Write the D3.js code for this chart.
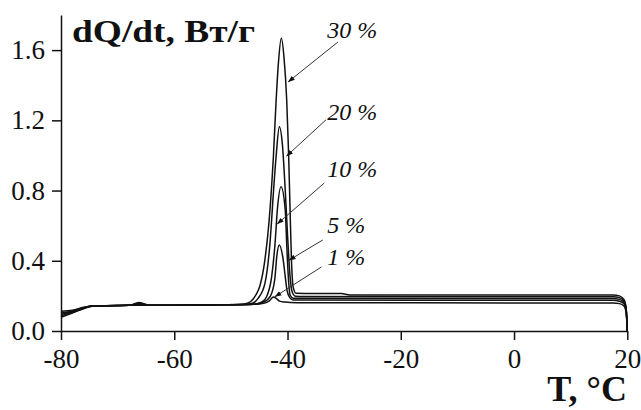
<!DOCTYPE html>
<html>
<head>
<meta charset="utf-8" />
<title>dQ/dt</title>
<script src="https://cdn.jsdelivr.net/npm/d3@7"></script>
<style>
	body { margin: 0; background: #fff; }
	svg { display: block; }
	svg text { font-family: "Liberation Serif", "Times New Roman", Times, serif; }
	.axis text { font-size: 27px; fill: #111; }
	.axis path, .axis line { stroke: #111; stroke-width: 1.5; }
</style>
</head>
<body>
<svg id="chart"></svg>

<script>
// tick labels
var xTicks = [-80, -60, -40, -20, 0, 20],
    yTicks = [0, 0.4, 0.8, 1.2, 1.6];

// curves, [T °C, dQ/dt W/g]
var s30 = [[-80,0.078],[-78,0.102],[-76,0.127],[-74.5,0.141],[-72,0.143],[-68,0.146],[-67,0.155],[-66.2,0.163],[-65.4,0.156],[-64.5,0.147],[-60,0.147],[-52,0.149],[-48.5,0.151],[-47.6,0.154],[-46.5,0.168],[-45.6,0.205],[-44.9,0.255],[-44,0.404],[-43.1,0.689],[-42.5,0.99],[-42,1.32],[-41.6,1.53],[-41.1,1.667],[-40.6,1.55],[-40.15,1.32],[-39.8,1.0],[-39.55,0.69],[-39.3,0.40],[-39.0,0.25],[-38.5,0.215],[-37,0.214],[-30.5,0.213],[-29,0.205],[0,0.205],[17.5,0.205],[18.6,0.2],[19.4,0.18],[19.8,0.13],[20,0]];

var s20 = [[-80,0.086],[-78,0.107],[-76,0.129],[-74.5,0.142],[-72,0.144],[-68,0.146],[-67,0.153],[-66.2,0.159],[-65.4,0.153],[-64.5,0.147],[-60,0.147],[-52,0.149],[-47.5,0.151],[-46.2,0.158],[-45.2,0.186],[-44,0.27],[-43.1,0.5],[-42.5,0.784],[-42,1.0],[-41.45,1.163],[-40.9,1.06],[-40.4,0.8],[-40,0.55],[-39.6,0.33],[-39.2,0.225],[-38.6,0.198],[-37,0.196],[0,0.195],[17.5,0.195],[18.6,0.19],[19.4,0.172],[19.8,0.125],[20,0]];

var s10 = [[-80,0.094],[-78,0.111],[-76,0.131],[-74.5,0.142],[-72,0.144],[-68,0.146],[-67,0.15],[-66.2,0.155],[-65.4,0.151],[-64.5,0.147],[-60,0.147],[-52,0.149],[-46,0.152],[-44.5,0.165],[-43.7,0.195],[-42.8,0.31],[-42.2,0.5],[-41.8,0.689],[-41.15,0.822],[-40.4,0.689],[-40.15,0.5],[-39.86,0.31],[-39.55,0.205],[-39,0.187],[-37,0.186],[0,0.185],[17.5,0.185],[18.6,0.18],[19.4,0.164],[19.8,0.12],[20,0]];

var s5 = [[-80,0.102],[-78,0.114],[-76,0.133],[-74.5,0.143],[-72,0.144],[-68,0.146],[-67,0.148],[-66.2,0.151],[-65.4,0.149],[-64.5,0.147],[-60,0.147],[-52,0.149],[-46,0.152],[-44.3,0.165],[-43.5,0.18],[-42.8,0.215],[-42.2,0.31],[-41.9,0.423],[-41.45,0.49],[-40.85,0.423],[-40.4,0.31],[-40.1,0.233],[-39.6,0.19],[-39,0.177],[-37,0.176],[0,0.175],[17.5,0.175],[18.6,0.17],[19.4,0.156],[19.8,0.115],[20,0]];

var s1 = [[-80,0.112],[-78,0.118],[-76,0.135],[-74.5,0.143],[-72,0.144],[-68,0.146],[-60,0.147],[-52,0.149],[-46,0.152],[-44.2,0.158],[-43.2,0.172],[-42.5,0.193],[-42,0.186],[-41.4,0.17],[-40.5,0.165],[-39.5,0.162],[-37,0.161],[0,0.16],[17.5,0.16],[18.6,0.156],[19.4,0.143],[19.8,0.105],[20,0]];

var series = [s30, s20, s10, s5, s1];

// annotations: label, label anchor [T, v], line start [T, v], arrow tip [T, v]
var labels     = ["30 %", "20 %", "10 %", "5 %", "1 %"],
    labelAt    = [[-33.0,1.669],[-33.0,1.202],[-33.0,0.877],[-33.0,0.558],[-33.0,0.376]],
    lineFrom   = [[-31.1,1.646],[-33.2,1.203],[-33.5,0.843],[-33.8,0.518],[-34.0,0.365]],
    arrowTo    = [[-39.85,1.42],[-40.15,0.997],[-41.8,0.61],[-39.7,0.404],[-42.2,0.196]];

(function draw() {
	var W = 641, H = 410;
	var svg = d3.select("#chart").attr("width", W).attr("height", H);

	var x = d3.scaleLinear().domain([-80, 20]).range([61, 627.3]);
	var y = d3.scaleLinear().domain([0, 1.8]).range([331, 15]);

	svg.append("defs").append("marker")
			.attr("id", "tip")
			.attr("viewBox", "0 0 10 10")
			.attr("refX", 9).attr("refY", 5)
			.attr("markerWidth", 7).attr("markerHeight", 7)
			.attr("markerUnits", "userSpaceOnUse")
			.attr("orient", "auto")
		.append("path")
			.attr("d", "M0,1.5L10,5L0,8.5z")
			.attr("fill", "#111");

	var gx = svg.append("g")
			.attr("class", "axis")
			.attr("transform", "translate(0,331)")
			.call(d3.axisBottom(x).tickValues(xTicks).tickSize(9).tickPadding(9).tickSizeOuter(0));
	gx.attr("font-family", null);
	gx.selectAll("text")
			.text(function(d){ return String(d).replace("\u2212", "-"); });

	var gy = svg.append("g")
			.attr("class", "axis")
			.attr("transform", "translate(61,0)")
			.call(d3.axisLeft(y).tickValues(yTicks).tickSize(9).tickPadding(7).tickSizeOuter(0).tickFormat(d3.format(".1f")));
	gy.attr("font-family", null);

	var line = d3.line()
		.x(function(d){ return x(d[0]); })
		.y(function(d){ return y(d[1]); })
		.curve(d3.curveMonotoneX);

	svg.append("g").selectAll("path")
		.data(series)
		.enter().append("path")
			.attr("d", line)
			.attr("fill", "none")
			.attr("stroke", "#111")
			.attr("stroke-width", 1.5);

	var notes = svg.append("g");
	labels.forEach(function(lbl, i) {
		notes.append("line")
			.attr("x1", x(lineFrom[i][0])).attr("y1", y(lineFrom[i][1]))
			.attr("x2", x(arrowTo[i][0])).attr("y2", y(arrowTo[i][1]))
			.attr("stroke", "#333")
			.attr("stroke-width", 1)
			.attr("marker-end", "url(#tip)");
		notes.append("text")
			.attr("x", x(labelAt[i][0])).attr("y", y(labelAt[i][1]))
			.attr("font-style", "italic")
			.attr("font-size", 24)
			.attr("fill", "#111")
			.text(lbl);
	});

	// axis titles
	svg.append("text")
		.attr("x", 72).attr("y", 42)
		.attr("font-weight", "bold")
		.attr("font-size", 31)
		.attr("textLength", 183)
		.attr("lengthAdjust", "spacingAndGlyphs")
		.attr("fill", "#111")
		.text("dQ/dt, Вт/г");

	svg.append("text")
		.attr("x", 627).attr("y", 401)
		.attr("text-anchor", "end")
		.attr("font-weight", "bold")
		.attr("font-size", 36)
		.attr("fill", "#111")
		.text("T, °C");
})();
</script>
</body>
</html>
